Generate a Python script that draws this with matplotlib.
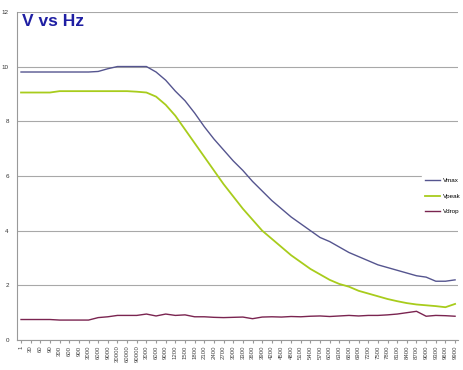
import matplotlib
matplotlib.use("Agg")
import matplotlib.pyplot as plt

# category labels as shown on the x axis
hz_labels = ['1', '30', '60', '90', '300', '600', '900', '3000', '6000', '9000',
             '30000', '60000', '90000', '3000', '6000', '9000', '1200', '1500',
             '1800', '2100', '2400', '2700', '3000', '3300', '3600', '3900',
             '4200', '4500', '4800', '5100', '5400', '5700', '6000', '6300',
             '6600', '6900', '7200', '7500', '7800', '8100', '8400', '8700',
             '9000', '9300', '9600', '9900']

vmax = [9.8, 9.8, 9.8, 9.8, 9.8, 9.8, 9.8, 9.8, 9.82, 9.92, 10.0, 10.0, 10.0, 10.0,
        9.8, 9.5, 9.1, 8.75, 8.3, 7.8, 7.35, 6.95, 6.55, 6.2, 5.8, 5.45, 5.1, 4.8,
        4.5, 4.25, 4.0, 3.75, 3.6, 3.4, 3.2, 3.05, 2.9, 2.75, 2.65, 2.55, 2.45,
        2.35, 2.3, 2.15, 2.15, 2.2]

vpeak = [9.05, 9.05, 9.05, 9.05, 9.1, 9.1, 9.1, 9.1, 9.1, 9.1, 9.1, 9.1, 9.08, 9.05,
         8.9, 8.6, 8.2, 7.7, 7.2, 6.7, 6.2, 5.7, 5.25, 4.8, 4.4, 4.0, 3.7, 3.4,
         3.1, 2.85, 2.6, 2.4, 2.2, 2.05, 1.95, 1.8, 1.7, 1.6, 1.5, 1.42, 1.35,
         1.3, 1.27, 1.24, 1.2, 1.32]

vdrop = [0.75, 0.75, 0.75, 0.75, 0.73, 0.73, 0.73, 0.73, 0.82, 0.85, 0.9, 0.9, 0.9,
         0.95, 0.88, 0.95, 0.9, 0.92, 0.85, 0.85, 0.83, 0.82, 0.83, 0.84, 0.78,
         0.84, 0.85, 0.84, 0.86, 0.85, 0.87, 0.88, 0.86, 0.88, 0.9, 0.88, 0.9,
         0.9, 0.92, 0.95, 1.0, 1.05, 0.87, 0.9, 0.89, 0.87]

x = list(range(len(vmax)))

plt.rcParams['font.family'] = ['Liberation Sans', 'DejaVu Sans']

fig = plt.figure(figsize=(4.64, 3.70), dpi=100)
ax = fig.add_axes([0.037, 0.081, 0.95, 0.887])

ax.plot(x, vmax, color='#55558f', lw=1.0, label='Vmax')
ax.plot(x, vpeak, color='#a8cc1c', lw=1.3, label='Vpeak')
ax.plot(x, vdrop, color='#7a2450', lw=1.0, label='Vdrop')

ax.set_ylim(0, 12)
ax.set_yticks(range(0, 13, 2))
ax.set_xlim(-0.4, len(x) - 0.7)
ax.set_xticks(x)
ax.set_xticklabels(hz_labels, rotation=90, fontsize=4.3, color='#444444')
ax.tick_params(axis='y', labelsize=4.5, colors='#333333', length=0, pad=6)
ax.tick_params(axis='x', length=2, color='#999999', pad=2)
ax.grid(axis='y', color='#a8a8a8', lw=0.8)
ax.set_axisbelow(True)
for s in ['top', 'right']:
    ax.spines[s].set_visible(False)
ax.spines['left'].set_color('#999999')
ax.spines['bottom'].set_color('#999999')

ax.text(0.012, 0.972, 'V vs Hz', transform=ax.transAxes, fontsize=12.5,
        fontweight='bold', color='#1f1fa3', va='center', ha='left')

leg = fig.legend(loc='center right', bbox_to_anchor=(1.0, 0.47), fontsize=4.5,
                 frameon=True, handlelength=2.4, labelspacing=1.6,
                 borderpad=0.5, borderaxespad=0.1, handletextpad=0.4)
leg.get_frame().set_facecolor('white')
leg.get_frame().set_edgecolor('white')
leg.get_frame().set_alpha(1.0)

fig.savefig('out.png', dpi=100)
